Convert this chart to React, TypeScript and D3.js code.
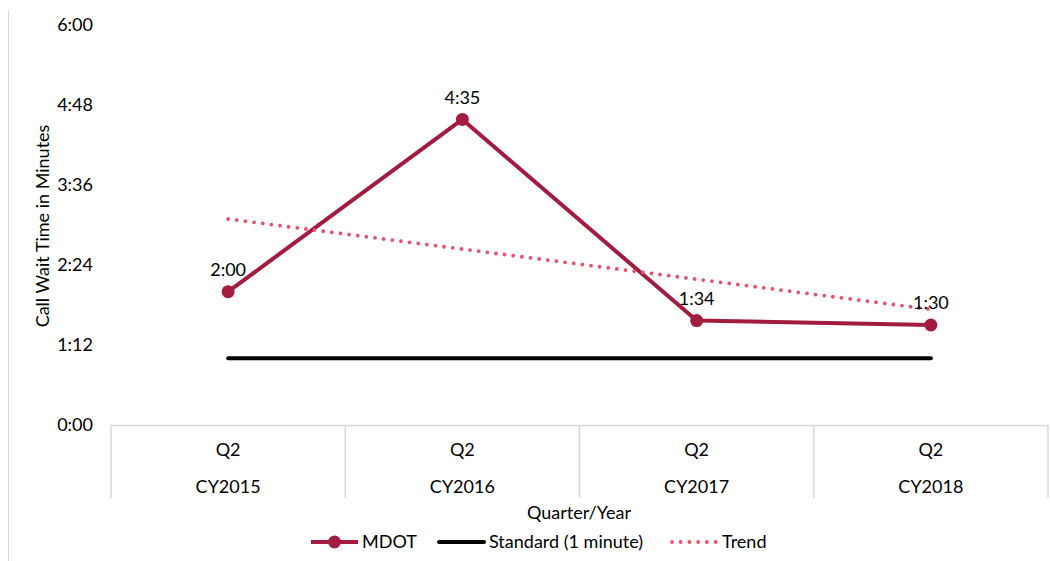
import React from "react";
import * as d3 from "d3";

// Quarter / year categories (two-level axis)
const quarters = ["Q2", "Q2", "Q2", "Q2"];
const years = ["CY2015", "CY2016", "CY2017", "CY2018"];

// Call wait time in seconds
const mdotSeconds = [120, 275, 94, 90];
const standardSeconds = [60, 60, 60, 60];
// Linear trend endpoints (seconds) at the first and last category
const trendSeconds = [185.4, 104.1];

const yTicks = [0, 72, 144, 216, 288, 360];

const W = 1050;
const H = 561;
const FONT = "Lato, 'Liberation Sans', sans-serif";
const MDOT_COLOR = "#A31C3F";
const TREND_COLOR = "#E4546F";
const AXIS_COLOR = "#D9D9D9";

const fmt = (s: number) => {
  const m = Math.floor(s / 60);
  const sec = Math.round(s - m * 60);
  return `${m}:${sec.toString().padStart(2, "0")}`;
};

export default function App() {
  const left = 111;
  const right = 1048;
  const top = 25;
  const bottom = 425;

  const x = d3.scaleBand<string>().domain(years).range([left, right]).padding(0);
  const cx = (i: number) => (x(years[i]) as number) + x.bandwidth() / 2;
  const y = d3.scaleLinear().domain([0, 360]).range([bottom, top]);

  const line = d3
    .line<number>()
    .x((_, i) => cx(i))
    .y((d) => y(d));

  const trendLine = d3
    .line<number>()
    .x((_, i) => (i === 0 ? cx(0) : cx(years.length - 1)))
    .y((d) => y(d));

  const fs = 18;
  const sepBottom = 498;

  return (
    <svg
      width={W}
      height={H}
      style={{ position: "absolute", left: 0, top: 0, background: "#fff" }}
      fontFamily={FONT}
    >
      <rect width={W} height={H} fill="#fff" />
      <line x1={8.5} x2={8.5} y1={10} y2={H} stroke={AXIS_COLOR} strokeWidth={1} />

      {/* y-axis tick labels */}
      {yTicks.map((t) => (
        <text
          key={t}
          x={93}
          y={y(t)}
          dy="0.35em"
          textAnchor="end"
          fontSize={fs}
          fill="#000"
        >
          {fmt(t)}
        </text>
      ))}

      <text
        transform={`translate(43, 226) rotate(-90)`}
        textAnchor="middle"
        dy="0.35em"
        fontSize={fs}
        fill="#000"
      >
        Call Wait Time in Minutes
      </text>

      {/* category axis */}
      <line x1={left} x2={right} y1={bottom + 0.5} y2={bottom + 0.5} stroke={AXIS_COLOR} strokeWidth={1.5} />
      {[...years.map((yr) => x(yr) as number), right].map((xv, i) => (
        <line
          key={i}
          x1={xv}
          x2={xv}
          y1={bottom}
          y2={sepBottom}
          stroke={AXIS_COLOR}
          strokeWidth={1.5}
        />
      ))}
      {years.map((yr, i) => (
        <g key={yr}>
          <text x={cx(i)} y={450} dy="0.35em" textAnchor="middle" fontSize={fs} fill="#000">
            {quarters[i]}
          </text>
          <text x={cx(i)} y={487} dy="0.35em" textAnchor="middle" fontSize={fs} fill="#000">
            {yr}
          </text>
        </g>
      ))}
      <text x={579} y={513} dy="0.35em" textAnchor="middle" fontSize={fs} fill="#000">
        Quarter/Year
      </text>

      {/* standard */}
      <path d={line(standardSeconds) || ""} fill="none" stroke="#000" strokeWidth={4} strokeLinecap="round" />

      {/* MDOT */}
      <path d={line(mdotSeconds) || ""} fill="none" stroke={MDOT_COLOR} strokeWidth={4} strokeLinejoin="round" />
      {mdotSeconds.map((v, i) => (
        <circle key={i} cx={cx(i)} cy={y(v)} r={6.5} fill={MDOT_COLOR} />
      ))}

      {/* trend */}
      <path
        d={trendLine(trendSeconds) || ""}
        fill="none"
        stroke={TREND_COLOR}
        strokeWidth={3.8}
        strokeDasharray="0.01 8.7"
        strokeLinecap="round"
      />

      {/* data labels */}
      {mdotSeconds.map((v, i) => (
        <text
          key={i}
          x={cx(i)}
          y={y(v) - 22}
          dy="0.35em"
          textAnchor="middle"
          fontSize={fs}
          fill="#000"
        >
          {fmt(v)}
        </text>
      ))}

      {/* legend */}
      <g>
        <line x1={311} x2={358} y1={542} y2={542} stroke={MDOT_COLOR} strokeWidth={4} />
        <circle cx={334.5} cy={542} r={6.5} fill={MDOT_COLOR} />
        <text x={362} y={542} dy="0.35em" fontSize={fs} fill="#000">MDOT</text>

        <line x1={439} x2={484} y1={542} y2={542} stroke="#000" strokeWidth={4} strokeLinecap="round" />
        <text x={489} y={542} dy="0.35em" fontSize={fs} fill="#000">Standard (1 minute)</text>

        <line
          x1={672}
          x2={719}
          y1={542}
          y2={542}
          stroke={TREND_COLOR}
          strokeWidth={3.8}
          strokeDasharray="0.01 8.7"
          strokeLinecap="round"
        />
        <text x={722} y={542} dy="0.35em" fontSize={fs} fill="#000">Trend</text>
      </g>
    </svg>
  );
}
